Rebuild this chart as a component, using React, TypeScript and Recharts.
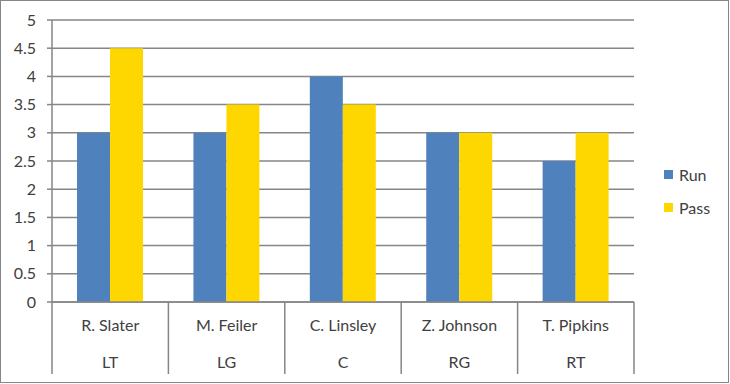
import { BarChart, Bar, XAxis, YAxis, CartesianGrid, Legend } from "recharts";

const players = ["R. Slater", "M. Feiler", "C. Linsley", "Z. Johnson", "T. Pipkins"];
const positions = ["LT", "LG", "C", "RG", "RT"];
const runValues = [3, 3, 4, 3, 2.5];
const passValues = [4.5, 3.5, 3.5, 3, 3];
const yTicks = [0, 0.5, 1, 1.5, 2, 2.5, 3, 3.5, 4, 4.5, 5];
const seriesOrder = ["Run", "Pass"];

const data = players.map((name, i) => ({
  name,
  pos: positions[i],
  run: runValues[i],
  pass: passValues[i],
}));

const W = 730;
const H = 384;
const MARGIN = { top: 20, right: 96, bottom: 0, left: 0 };
const Y_W = 52;
const PLOT_W = W - MARGIN.left - MARGIN.right - Y_W;
const HALF_BAND = PLOT_W / players.length / 2;
const GRAY = "#868686";
const TEXT = "#404040";
const FONT = "Lato, 'Open Sans', sans-serif";
const FS = 16;

function NameTick(props: any) {
  const { x, y, payload, index } = props;
  const last = index === players.length - 1;
  return (
    <g>
      <line x1={x - HALF_BAND} x2={x - HALF_BAND} y1={y} y2={y + 72} stroke={GRAY} strokeWidth={1.5} />
      {last && (
        <line x1={x + HALF_BAND} x2={x + HALF_BAND} y1={y} y2={y + 72} stroke={GRAY} strokeWidth={1.5} />
      )}
      <text x={x} y={y + 29} textAnchor="middle" fill={TEXT} fontSize={FS} fontFamily={FONT}>
        {payload.value}
      </text>
    </g>
  );
}

function PosTick(props: any) {
  const { x, y, payload } = props;
  return (
    <text x={x} y={y + 26} textAnchor="middle" fill={TEXT} fontSize={FS} fontFamily={FONT}>
      {payload.value}
    </text>
  );
}

function LegendBox(props: any) {
  const items = [...(props.payload || [])].sort(
    (a: any, b: any) => seriesOrder.indexOf(a.value) - seriesOrder.indexOf(b.value)
  );
  return (
    <div style={{ fontFamily: FONT, fontSize: FS, color: TEXT }}>
      {items.map((it: any) => (
        <div key={it.value} style={{ display: "flex", alignItems: "center", height: 33 }}>
          <span style={{ width: 9, height: 9, background: it.color, marginRight: 6, display: "inline-block" }} />
          <span>{it.value}</span>
        </div>
      ))}
    </div>
  );
}

export default function App() {
  return (
    <div style={{ position: "absolute", left: 0, top: 0, width: W, height: H, background: "#fff" }}>
      <div
        style={{
          position: "absolute",
          left: 0,
          top: 0,
          width: W - 1,
          height: H - 1,
          border: `1.5px solid ${GRAY}`,
          boxSizing: "border-box",
        }}
      />
      <BarChart
        width={W}
        height={H}
        data={data}
        margin={MARGIN}
        barCategoryGap="21.5%"
        barGap={0}
        style={{ position: "absolute", left: 0, top: 0 }}
      >
        <CartesianGrid vertical={false} stroke={GRAY} strokeWidth={1.5} />
        <YAxis
          width={Y_W}
          domain={[0, 5]}
          ticks={yTicks}
          interval={0}
          tickSize={5}
          tickMargin={11}
          axisLine={{ stroke: GRAY, strokeWidth: 1.5 }}
          tickLine={{ stroke: GRAY, strokeWidth: 1.5 }}
          tick={{ fill: TEXT, fontSize: FS, fontFamily: FONT }}
        />
        <XAxis
          xAxisId="name"
          dataKey="name"
          height={40}
          interval={0}
          tickSize={0}
          tickMargin={0}
          tickLine={false}
          axisLine={{ stroke: GRAY, strokeWidth: 1.5 }}
          tick={<NameTick />}
        />
        <XAxis
          xAxisId="pos"
          dataKey="pos"
          height={42}
          interval={0}
          tickSize={0}
          tickMargin={0}
          tickLine={false}
          axisLine={false}
          tick={<PosTick />}
        />
        <Legend
          layout="vertical"
          align="center"
          verticalAlign="middle"
          content={<LegendBox />}
          wrapperStyle={{ left: 664, top: 158, width: 60 }}
        />
        <Bar xAxisId="name" dataKey="run" name="Run" fill="#4F81BD" isAnimationActive={false} />
        <Bar xAxisId="name" dataKey="pass" name="Pass" fill="#FFD700" isAnimationActive={false} />
      </BarChart>
    </div>
  );
}
